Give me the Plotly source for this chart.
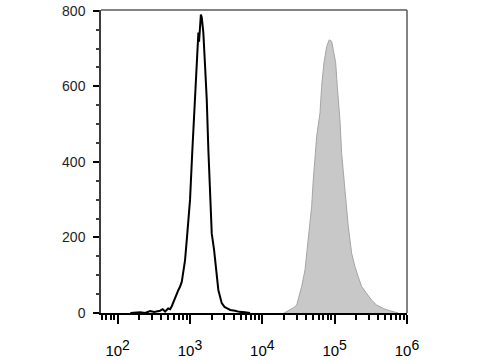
import plotly.graph_objects as go

# Black (unstained / control) histogram: fluorescence intensity vs count
ctrl_x = [150, 205, 240, 281, 320, 386, 420, 453, 500, 531, 560, 590, 640, 692, 730, 771, 810, 855,
          920, 1002, 1079, 1175, 1265, 1306, 1335, 1377, 1415, 1455, 1530, 1618, 1706, 1795, 1897,
          2000, 2153, 2344, 2466, 2748, 3000, 3221, 3600, 4198, 4800, 5754, 6761]
ctrl_y = [0, 2, 0, 5, 3, 6, 10, 4, 12, 10, 18, 30, 45, 61, 70, 83, 110, 140,
          212, 300, 432, 564, 689, 742, 718, 760, 790, 782, 742, 652, 564, 432, 300,
          210, 167, 95, 61, 26, 16, 13, 8, 6, 3, 2, 0]

# Grey filled (stained) histogram
stain_x = [20000, 24150, 27000, 29850, 35000, 38900, 43150, 48100, 50600, 53400, 56400, 62650,
           66100, 71100, 77450, 84100, 90900, 95700, 103300, 108700, 118300, 125000, 138700,
           154100, 171800, 190600, 211800, 236000, 276700, 324300, 380200, 468800, 580400, 680800, 760000]
stain_y = [0, 8, 14, 21, 70, 114, 202, 282, 352, 405, 467, 529,
           600, 662, 705, 723, 719, 697, 662, 600, 511, 422, 317,
           229, 158, 123, 96, 70, 52, 34, 21, 12, 6, 2, 0]

x_tickvals = [1e2, 1e3, 1e4, 1e5, 1e6]
x_exponents = ["2", "3", "4", "5", "6"]
x_ticktext = ["10<sup><span style='font-size:14px'>%s</span></sup>" % e for e in x_exponents]
y_tickvals = [0, 200, 400, 600, 800]

fig = go.Figure()
fig.add_trace(go.Scatter(x=stain_x, y=stain_y, mode="lines", fill="tozeroy",
                         line=dict(color="rgb(165,165,165)", width=1),
                         fillcolor="rgb(200,200,200)", showlegend=False))
fig.add_trace(go.Scatter(x=ctrl_x, y=ctrl_y, mode="lines",
                         line=dict(color="black", width=2), showlegend=False))

fig.update_layout(
    width=480, height=360,
    margin=dict(l=101, r=73, t=10, b=47),
    paper_bgcolor="white", plot_bgcolor="white",
    font=dict(family="Liberation Sans, Arial", size=14, color="black"),
)
fig.update_xaxes(
    type="log", range=[1.77, 6.0], automargin=False,
    tickvals=x_tickvals, ticktext=x_ticktext,
    tickfont=dict(size=15),
    ticks="outside", ticklen=9, tickwidth=2, tickcolor="black",
    showline=True, linecolor="black", linewidth=2,
    showgrid=False, zeroline=False,
    ticklabelstandoff=14,
    minor=dict(ticks="outside", ticklen=5, tickwidth=1.5, tickcolor="black", dtick="D1", showgrid=False),
)
fig.update_yaxes(
    range=[0, 802], automargin=False,
    tickvals=y_tickvals,
    tickfont=dict(size=14, color="rgb(30,30,30)"),
    ticks="outside", ticklen=6, tickwidth=2, tickcolor="black",
    showline=True, linecolor="rgb(60,60,60)", linewidth=1.5,
    showgrid=False, zeroline=False,
    ticklabelstandoff=5,
    minor=dict(ticks="outside", ticklen=3, tickwidth=1.5, tickcolor="rgb(60,60,60)", dtick=50, showgrid=False),
)
# top and right frame lines
fig.add_shape(type="line", xref="paper", yref="paper", x0=0, x1=1, y0=1, y1=1,
              line=dict(color="rgb(90,90,90)", width=1.5))
fig.add_shape(type="line", xref="paper", yref="paper", x0=1, x1=1, y0=0, y1=1,
              line=dict(color="rgb(90,90,90)", width=1.5))

fig.write_html("out.html")
